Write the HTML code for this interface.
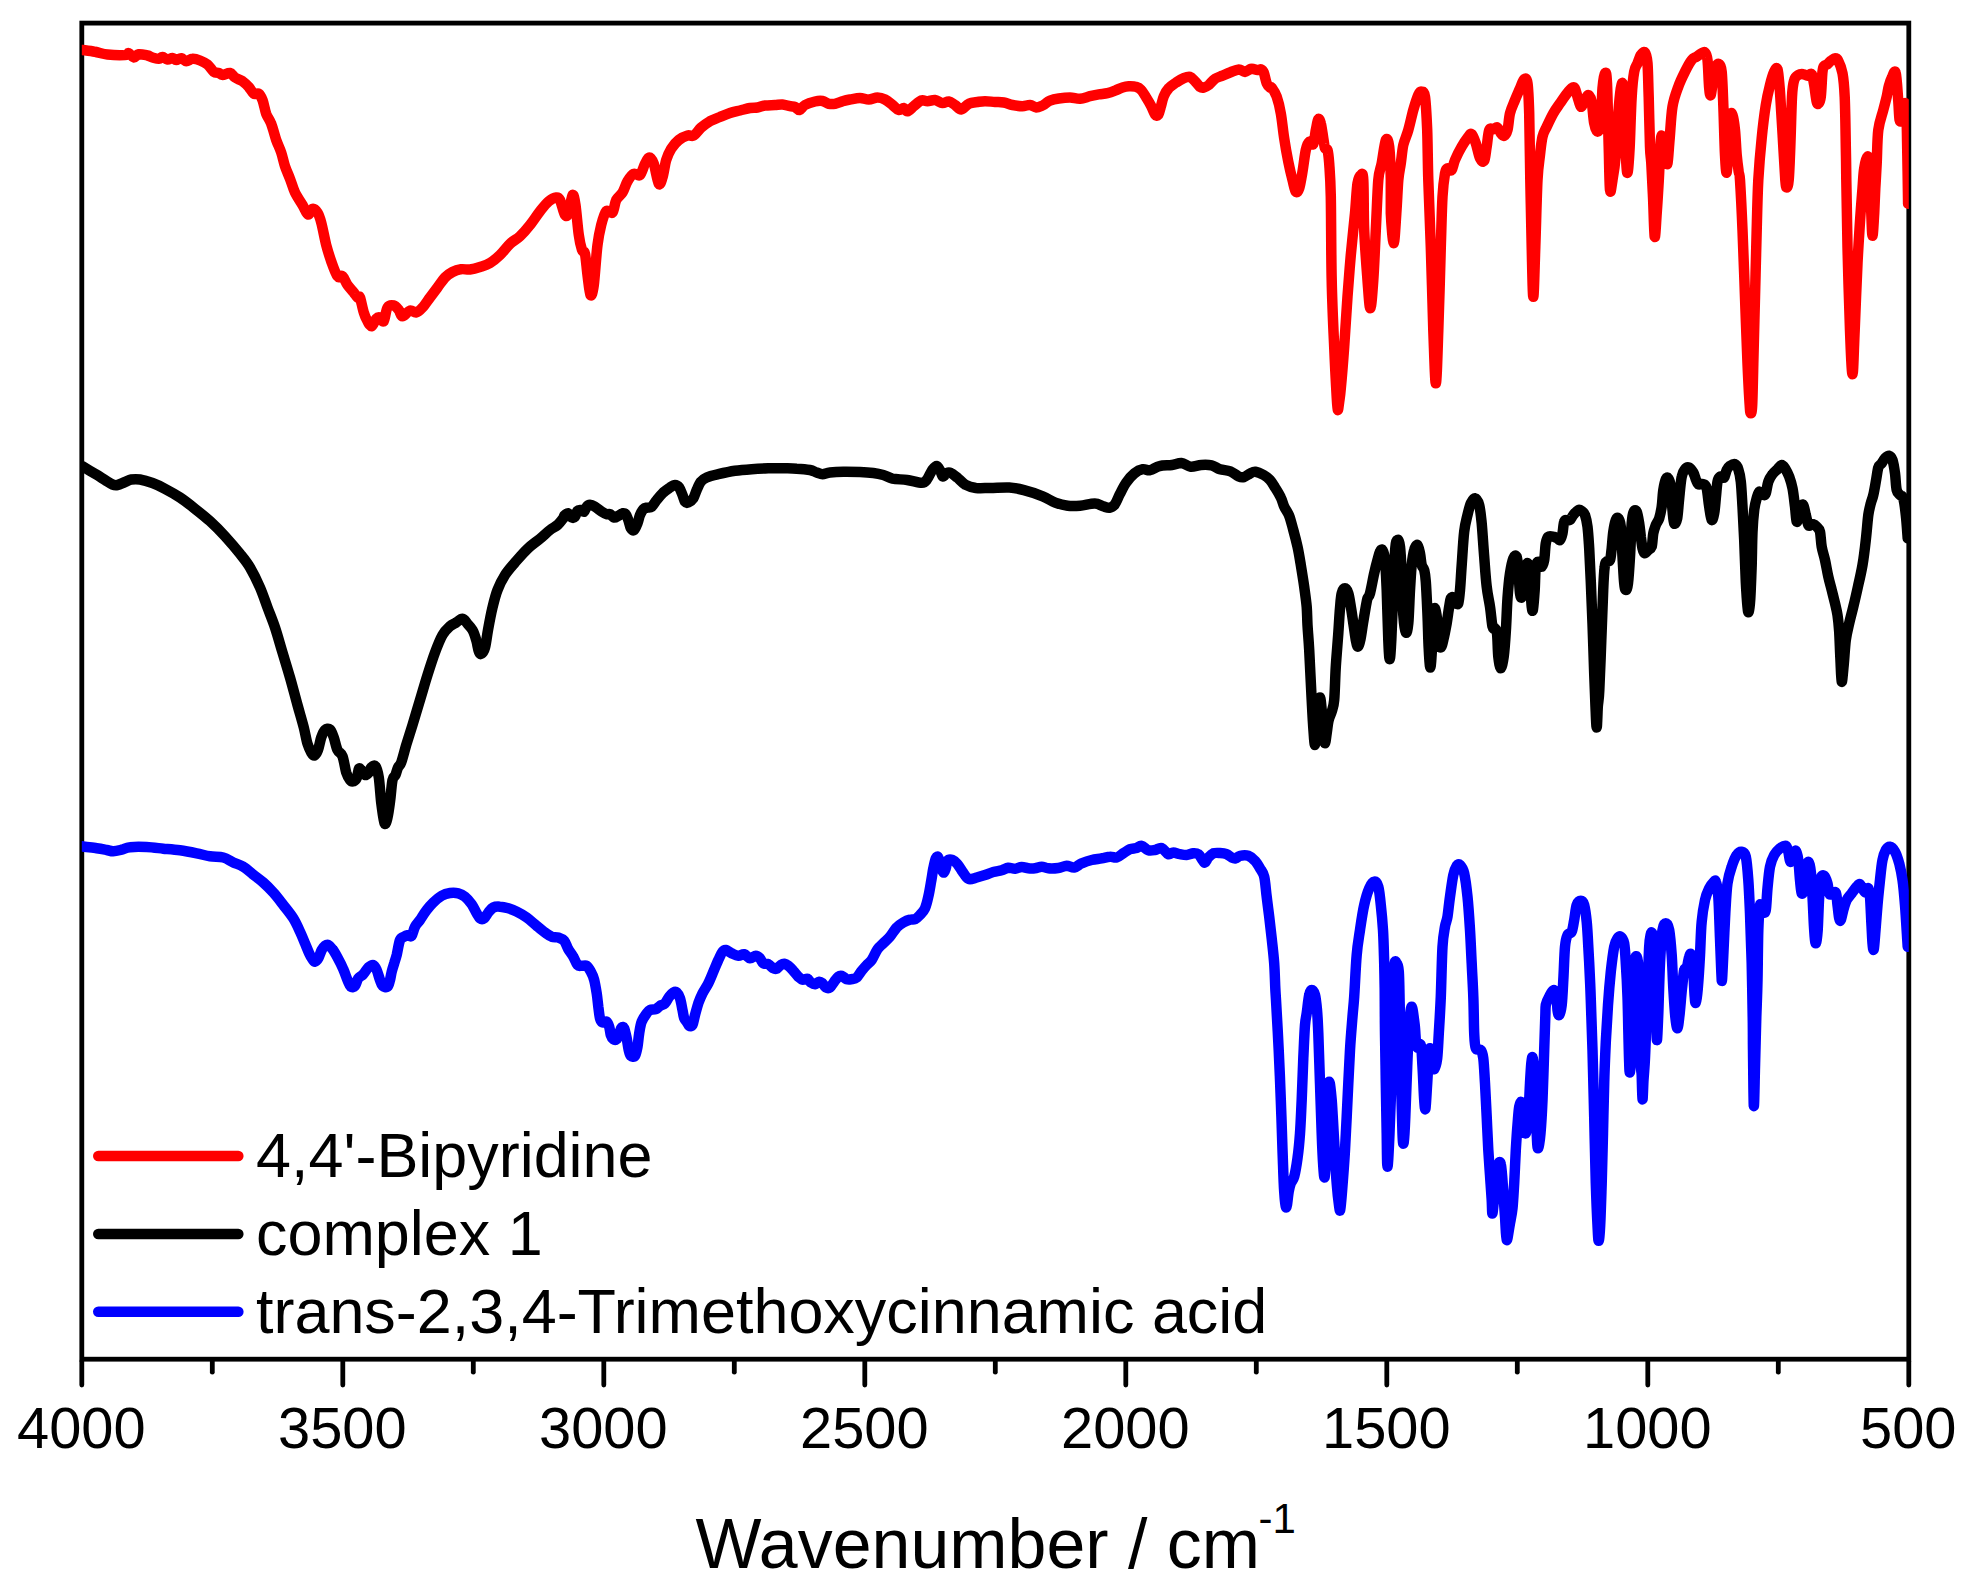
<!DOCTYPE html>
<html><head><meta charset="utf-8"><title>IR spectra</title>
<style>
html,body{margin:0;padding:0;background:#fff;}
body{width:1966px;height:1593px;overflow:hidden;font-family:"Liberation Sans",Arial,sans-serif;}
svg{display:block}
text{font-family:"Liberation Sans",Arial,sans-serif;fill:#000}
</style></head><body>
<svg width="1966" height="1593" viewBox="0 0 1966 1593">
<rect width="1966" height="1593" fill="#fff"/>
<defs><clipPath id="cp"><rect x="81.8" y="23.1" width="1827.0" height="1336.1"/></clipPath></defs>
<rect x="81.8" y="23.1" width="1827.0" height="1336.1" fill="none" stroke="#000" stroke-width="4.8"/>
<g clip-path="url(#cp)" fill="none" stroke-width="10.5" stroke-linejoin="round" stroke-linecap="round">
<path stroke="#ff0000" d="M82.5 50.0C84.6 50.3 90.8 51.0 95.0 51.8C99.2 52.5 102.5 54.0 107.5 54.5C112.5 55.0 121.5 55.2 125.0 55.0C128.5 54.8 127.3 52.8 128.8 53.2C130.2 53.7 132.1 57.3 133.8 57.5C135.4 57.7 136.5 54.6 138.8 54.2C141.0 53.9 145.2 55.0 147.5 55.5C149.8 56.0 150.6 57.0 152.5 57.5C154.4 58.0 157.1 58.8 158.8 58.8C160.4 58.7 161.0 56.9 162.5 57.0C164.0 57.1 165.8 59.3 167.5 59.5C169.2 59.7 171.0 57.9 172.5 58.0C174.0 58.1 174.8 60.0 176.2 60.0C177.7 60.0 179.6 58.0 181.2 58.2C182.9 58.5 184.4 61.2 186.2 61.2C188.1 61.3 190.2 58.9 192.5 58.8C194.8 58.6 197.5 59.5 200.0 60.5C202.5 61.5 205.2 62.6 207.5 64.5C209.8 66.4 211.9 70.3 213.8 71.8C215.6 73.2 217.3 72.5 218.8 73.0C220.2 73.5 220.6 75.0 222.5 75.0C224.4 75.0 227.9 72.6 230.0 73.0C232.1 73.4 232.9 76.1 235.0 77.5C237.1 78.9 240.2 79.7 242.5 81.2C244.8 82.8 246.9 84.9 248.8 87.0C250.6 89.1 252.1 92.6 253.8 93.8C255.4 94.9 257.3 92.7 258.8 93.8C260.2 94.8 261.2 96.7 262.5 100.0C263.8 103.3 264.8 109.8 266.2 113.8C267.7 117.7 269.6 119.4 271.2 123.8C272.9 128.1 274.6 135.2 276.2 140.0C277.9 144.8 279.8 148.1 281.2 152.5C282.7 156.9 283.5 161.9 285.0 166.2C286.5 170.6 288.3 174.4 290.0 178.8C291.7 183.1 292.9 188.1 295.0 192.5C297.1 196.9 300.3 201.3 302.5 205.0C304.7 208.7 306.3 213.9 308.0 214.5C309.7 215.1 310.9 209.1 312.5 208.8C314.1 208.4 316.0 210.2 317.5 212.5C319.0 214.8 319.8 217.1 321.2 222.5C322.7 227.9 324.6 238.5 326.2 245.0C327.9 251.5 329.4 256.0 331.2 261.2C333.1 266.5 335.6 273.8 337.5 276.2C339.4 278.8 340.8 274.8 342.5 276.2C344.2 277.7 345.6 282.3 347.5 285.0C349.4 287.7 352.1 290.4 353.8 292.5C355.4 294.6 356.5 296.7 357.5 297.5C358.5 298.3 359.0 295.0 360.0 297.5C361.0 300.0 362.5 308.5 363.8 312.5C365.0 316.5 366.2 319.0 367.5 321.2C368.8 323.5 370.3 326.7 371.8 326.2C373.2 325.8 374.9 320.2 376.2 318.8C377.6 317.3 378.8 317.1 380.0 317.5C381.2 317.9 382.5 322.9 383.8 321.2C385.0 319.6 385.8 310.1 387.5 307.5C389.2 304.9 391.9 305.1 393.8 305.5C395.6 305.9 397.3 308.2 398.8 310.0C400.2 311.8 400.6 316.2 402.5 316.2C404.4 316.3 407.7 311.1 410.0 310.5C412.3 309.9 414.2 313.0 416.2 312.5C418.3 312.0 420.2 310.0 422.5 307.5C424.8 305.0 427.5 300.8 430.0 297.5C432.5 294.2 435.0 290.8 437.5 287.5C440.0 284.2 442.5 280.1 445.0 277.5C447.5 274.9 449.8 273.4 452.5 272.0C455.2 270.6 458.3 269.7 461.2 269.2C464.2 268.8 466.9 269.9 470.0 269.5C473.1 269.1 476.7 268.1 480.0 267.0C483.3 265.9 486.7 265.0 490.0 263.0C493.3 261.0 496.7 258.2 500.0 255.0C503.3 251.8 506.7 246.9 510.0 243.8C513.3 240.6 516.7 239.4 520.0 236.2C523.3 233.1 526.7 229.2 530.0 225.0C533.3 220.8 536.9 215.2 540.0 211.2C543.1 207.3 546.0 203.5 548.8 201.2C551.5 199.0 554.4 197.7 556.2 197.5C558.1 197.3 558.5 197.1 560.0 200.0C561.5 202.9 563.5 212.9 565.0 215.0C566.5 217.1 567.5 215.8 568.8 212.5C570.0 209.2 571.4 196.2 572.5 195.0C573.6 193.8 574.5 198.3 575.5 205.0C576.5 211.7 577.7 227.5 578.8 235.0C579.8 242.5 581.0 246.9 582.0 250.0C583.0 253.1 584.1 249.6 585.0 253.8C585.9 257.9 586.6 268.1 587.5 275.0C588.4 281.9 589.5 293.3 590.5 295.0C591.5 296.7 592.6 293.3 593.8 285.0C594.9 276.7 596.2 255.0 597.5 245.0C598.8 235.0 599.8 230.6 601.2 225.0C602.7 219.4 604.4 213.3 606.2 211.2C608.1 209.2 610.8 214.4 612.5 212.5C614.2 210.6 614.6 203.3 616.2 200.0C617.9 196.7 620.6 195.6 622.5 192.5C624.4 189.4 625.6 184.4 627.5 181.2C629.4 178.1 631.7 174.8 633.8 173.8C635.8 172.7 638.1 176.7 640.0 175.0C641.9 173.3 643.4 166.7 645.0 163.8C646.6 160.8 648.0 157.5 649.5 157.5C651.0 157.5 652.2 159.4 653.8 163.8C655.3 168.1 657.3 181.5 658.8 183.8C660.2 186.0 661.2 181.5 662.5 177.5C663.8 173.5 664.8 164.8 666.2 160.0C667.7 155.2 669.2 152.1 671.2 148.8C673.3 145.4 676.0 142.2 678.8 140.0C681.5 137.8 685.0 136.2 687.5 135.5C690.0 134.8 691.5 136.8 693.8 135.5C696.0 134.2 698.5 129.9 701.2 127.5C704.0 125.1 706.9 123.0 710.0 121.2C713.1 119.5 716.7 118.4 720.0 117.0C723.3 115.6 726.7 114.1 730.0 113.0C733.3 111.9 736.7 111.3 740.0 110.5C743.3 109.7 747.1 108.5 750.0 108.0C752.9 107.5 755.0 107.9 757.5 107.5C760.0 107.1 762.1 105.9 765.0 105.5C767.9 105.1 772.1 105.2 775.0 105.0C777.9 104.8 780.0 104.3 782.5 104.5C785.0 104.7 787.9 105.8 790.0 106.2C792.1 106.7 793.4 106.4 795.0 107.0C796.6 107.6 797.8 110.3 799.5 110.0C801.2 109.7 802.4 106.4 805.0 105.0C807.6 103.6 812.1 102.2 815.0 101.5C817.9 100.8 820.2 100.6 822.5 101.0C824.8 101.4 826.7 103.3 828.8 103.8C830.8 104.2 832.7 104.2 835.0 103.8C837.3 103.3 840.0 102.0 842.5 101.2C845.0 100.5 847.1 100.0 850.0 99.5C852.9 99.0 856.9 98.0 860.0 98.0C863.1 98.0 865.8 99.6 868.8 99.5C871.7 99.4 874.8 97.5 877.5 97.5C880.2 97.5 882.5 98.2 885.0 99.5C887.5 100.8 890.2 103.2 892.5 105.0C894.8 106.8 896.9 109.5 898.8 110.0C900.6 110.5 902.3 107.8 903.8 108.0C905.2 108.2 905.8 111.5 907.5 111.2C909.2 111.0 911.5 108.0 913.8 106.2C916.0 104.5 919.0 101.3 921.2 100.5C923.5 99.7 925.2 101.3 927.5 101.2C929.8 101.2 932.5 99.7 935.0 100.0C937.5 100.3 940.2 102.8 942.5 103.0C944.8 103.2 946.7 101.2 948.8 101.5C950.8 101.8 952.9 103.7 955.0 105.0C957.1 106.3 959.0 109.7 961.2 109.5C963.5 109.3 966.0 105.0 968.8 103.8C971.5 102.5 974.8 102.4 977.5 102.0C980.2 101.6 982.1 101.2 985.0 101.2C987.9 101.2 991.9 101.8 995.0 102.0C998.1 102.2 1000.8 102.0 1003.8 102.5C1006.7 103.0 1009.4 104.4 1012.5 105.0C1015.6 105.6 1019.6 106.2 1022.5 106.2C1025.4 106.2 1027.7 104.8 1030.0 105.0C1032.3 105.2 1034.2 107.4 1036.2 107.5C1038.3 107.6 1041.0 106.1 1042.5 105.5C1044.0 104.9 1043.8 104.8 1045.0 104.0C1046.2 103.2 1047.7 101.5 1050.0 100.6C1052.3 99.7 1055.4 99.0 1058.8 98.5C1062.1 98.0 1066.5 97.5 1070.0 97.5C1073.5 97.5 1076.7 99.0 1080.0 98.8C1083.3 98.5 1086.9 97.0 1090.0 96.2C1093.1 95.5 1095.8 94.9 1098.8 94.4C1101.7 93.9 1104.8 93.8 1107.5 93.1C1110.2 92.5 1112.5 91.6 1115.0 90.6C1117.5 89.7 1120.2 88.2 1122.5 87.5C1124.8 86.8 1126.5 86.4 1128.8 86.2C1131.0 86.1 1134.2 86.2 1136.2 86.9C1138.3 87.5 1139.6 88.2 1141.2 90.0C1142.9 91.8 1144.6 94.8 1146.2 97.5C1147.9 100.2 1149.8 103.4 1151.2 106.2C1152.7 109.1 1153.9 112.9 1155.0 114.4C1156.1 115.8 1157.2 116.1 1158.1 115.0C1159.1 113.9 1159.7 110.6 1160.6 107.5C1161.6 104.4 1162.4 99.5 1163.8 96.2C1165.1 93.0 1166.7 90.4 1168.8 88.1C1170.8 85.8 1173.8 84.2 1176.2 82.5C1178.8 80.8 1181.5 79.1 1183.8 78.1C1186.0 77.2 1188.1 76.4 1190.0 76.9C1191.9 77.4 1193.3 79.6 1195.0 81.2C1196.7 82.9 1198.5 85.8 1200.0 86.9C1201.5 87.9 1202.3 87.8 1203.8 87.5C1205.2 87.2 1206.9 86.5 1208.8 85.0C1210.6 83.5 1212.7 80.3 1215.0 78.8C1217.3 77.2 1220.0 76.7 1222.5 75.6C1225.0 74.6 1227.3 73.5 1230.0 72.5C1232.7 71.5 1236.2 69.5 1238.8 69.4C1241.2 69.3 1242.9 72.0 1245.0 71.9C1247.1 71.8 1249.2 69.1 1251.2 68.8C1253.3 68.4 1255.8 69.9 1257.5 70.0C1259.2 70.1 1260.2 69.0 1261.2 69.4C1262.3 69.8 1262.8 70.1 1263.8 72.5C1264.7 74.9 1265.8 81.2 1266.9 83.8C1267.9 86.2 1269.2 86.9 1270.0 87.5C1270.8 88.1 1270.6 86.0 1271.7 87.5C1272.8 89.0 1275.1 92.4 1276.7 96.7C1278.2 101.0 1279.6 106.4 1280.8 113.3C1282.1 120.3 1282.9 130.3 1284.2 138.3C1285.4 146.4 1286.9 154.7 1288.3 161.7C1289.7 168.6 1291.2 175.0 1292.5 180.0C1293.8 185.0 1294.7 190.3 1295.8 191.7C1296.9 193.1 1298.1 191.7 1299.2 188.3C1300.3 185.0 1301.4 178.1 1302.5 171.7C1303.6 165.3 1304.7 155.0 1305.8 150.0C1306.9 145.0 1307.9 142.6 1309.2 141.7C1310.4 140.7 1312.2 146.1 1313.3 144.2C1314.4 142.2 1315.0 134.2 1315.8 130.0C1316.7 125.8 1317.5 120.3 1318.3 119.2C1319.2 118.1 1320.0 120.1 1320.8 123.3C1321.7 126.5 1322.6 134.2 1323.3 138.3C1324.0 142.5 1324.3 146.4 1325.0 148.3C1325.7 150.3 1326.8 147.5 1327.5 150.0C1328.2 152.5 1328.6 155.6 1329.2 163.3C1329.7 171.1 1330.4 177.2 1330.8 196.7C1331.2 216.1 1331.1 255.0 1331.7 280.0C1332.2 305.0 1333.3 327.2 1334.2 346.7C1335.0 366.1 1336.1 386.1 1336.7 396.7C1337.3 407.2 1337.4 409.2 1337.8 410.0C1338.2 410.8 1338.7 405.3 1339.2 401.7C1339.7 398.1 1340.0 397.5 1340.8 388.3C1341.7 379.2 1343.1 361.9 1344.2 346.7C1345.3 331.4 1346.4 311.9 1347.5 296.7C1348.6 281.4 1349.6 268.9 1350.8 255.0C1352.1 241.1 1353.9 225.3 1355.0 213.3C1356.1 201.4 1356.5 189.7 1357.5 183.3C1358.5 176.9 1359.9 175.6 1360.8 175.0C1361.8 174.4 1362.8 170.8 1363.3 180.0C1363.9 189.2 1363.5 213.3 1364.2 230.0C1364.9 246.7 1366.5 266.9 1367.5 280.0C1368.5 293.1 1369.4 308.3 1370.3 308.3C1371.3 308.3 1372.4 293.1 1373.3 280.0C1374.2 266.9 1375.0 246.7 1375.8 230.0C1376.7 213.3 1377.4 191.1 1378.3 180.0C1379.3 168.9 1380.4 170.0 1381.7 163.3C1382.9 156.7 1384.6 142.8 1385.8 140.0C1387.1 137.2 1388.3 140.0 1389.2 146.7C1390.0 153.3 1390.6 168.9 1390.8 180.0C1390.8 191.1 1390.8 202.8 1390.8 213.3C1391.3 223.9 1392.8 243.3 1393.7 243.3C1394.6 243.3 1395.6 223.9 1396.3 213.3C1397.1 202.8 1397.6 188.3 1398.3 180.0C1399.1 171.7 1400.0 169.2 1400.8 163.3C1401.7 157.5 1402.1 150.6 1403.3 145.0C1404.6 139.4 1406.7 135.8 1408.3 130.0C1410.0 124.2 1411.7 115.8 1413.3 110.0C1415.0 104.2 1416.9 98.1 1418.3 95.0C1419.7 91.9 1420.6 91.4 1421.7 91.7C1422.8 91.9 1424.1 90.3 1425.0 96.7C1425.9 103.1 1426.6 116.1 1427.2 130.0C1427.7 143.9 1427.7 160.6 1428.3 180.0C1428.9 199.4 1430.0 221.7 1430.8 246.7C1431.7 271.7 1432.5 307.2 1433.3 330.0C1434.2 352.8 1435.0 383.3 1435.8 383.3C1436.7 383.3 1437.5 352.8 1438.3 330.0C1439.2 307.2 1440.1 268.9 1440.8 246.7C1441.5 224.4 1441.8 208.9 1442.5 196.7C1443.2 184.4 1444.2 178.1 1445.0 173.3C1445.8 168.6 1446.4 168.9 1447.5 168.3C1448.6 167.8 1450.4 171.4 1451.7 170.0C1452.9 168.6 1453.3 163.9 1455.0 160.0C1456.7 156.1 1459.4 150.6 1461.7 146.7C1463.9 142.8 1466.7 138.8 1468.3 136.7C1470.0 134.6 1470.4 133.1 1471.7 134.2C1472.9 135.3 1474.4 139.3 1475.8 143.3C1477.2 147.4 1478.6 155.4 1480.0 158.3C1481.4 161.2 1483.1 162.8 1484.2 160.8C1485.3 158.9 1485.8 151.8 1486.7 146.7C1487.5 141.5 1488.1 132.9 1489.2 130.0C1490.3 127.1 1491.9 129.6 1493.3 129.2C1494.7 128.8 1496.2 126.8 1497.5 127.5C1498.8 128.2 1499.7 131.9 1500.8 133.3C1501.9 134.7 1503.1 136.4 1504.2 135.8C1505.3 135.3 1506.5 133.8 1507.5 130.0C1508.5 126.2 1508.8 118.3 1510.0 113.3C1511.2 108.3 1513.3 104.2 1515.0 100.0C1516.7 95.8 1518.5 91.8 1520.0 88.3C1521.5 84.9 1522.9 80.0 1524.2 79.2C1525.4 78.3 1526.7 77.6 1527.5 83.3C1528.3 89.0 1528.7 97.2 1529.2 113.3C1529.6 129.4 1529.9 157.8 1530.3 180.0C1530.8 202.2 1531.2 227.2 1531.7 246.7C1532.2 266.1 1532.7 296.7 1533.3 296.7C1533.9 296.7 1534.6 266.1 1535.3 246.7C1536.0 227.2 1536.7 195.3 1537.5 180.0C1538.3 164.7 1539.2 162.2 1540.0 155.0C1540.8 147.8 1541.4 141.4 1542.5 136.7C1543.6 131.9 1544.9 130.6 1546.7 126.7C1548.5 122.8 1551.1 117.2 1553.3 113.3C1555.6 109.4 1557.5 106.9 1560.0 103.3C1562.5 99.7 1566.0 94.3 1568.3 91.7C1570.7 89.0 1572.6 86.7 1574.2 87.5C1575.7 88.3 1576.4 93.5 1577.5 96.7C1578.6 99.9 1579.7 105.8 1580.8 106.7C1581.9 107.5 1582.9 103.6 1584.2 101.7C1585.4 99.7 1587.1 95.0 1588.3 95.0C1589.6 95.0 1590.7 96.9 1591.7 101.7C1592.6 106.4 1593.2 118.3 1594.2 123.3C1595.1 128.3 1596.4 131.7 1597.5 131.7C1598.6 131.7 1600.0 130.6 1600.8 123.3C1601.7 116.1 1601.8 96.7 1602.5 88.3C1603.2 80.0 1604.2 74.2 1605.0 73.3C1605.8 72.5 1606.4 71.1 1607.0 83.3C1607.6 95.6 1608.2 128.9 1608.7 146.7C1609.2 164.4 1609.4 184.4 1610.0 190.0C1610.6 195.6 1611.5 185.8 1612.5 180.0C1613.5 174.2 1614.9 166.1 1615.8 155.0C1616.8 143.9 1617.5 124.4 1618.3 113.3C1619.2 102.2 1620.1 93.1 1620.8 88.3C1621.6 83.6 1622.4 80.8 1623.0 85.0C1623.6 89.2 1624.1 100.3 1624.7 113.3C1625.2 126.4 1625.8 153.6 1626.3 163.3C1626.9 173.1 1627.3 174.4 1627.8 171.7C1628.4 168.9 1629.0 159.2 1629.7 146.7C1630.3 134.2 1630.9 109.2 1631.7 96.7C1632.4 84.2 1633.2 77.2 1634.2 71.7C1635.1 66.1 1636.4 66.1 1637.5 63.3C1638.6 60.6 1639.6 56.8 1640.8 55.0C1642.1 53.2 1643.9 51.1 1645.0 52.5C1646.1 53.9 1646.9 56.0 1647.5 63.3C1648.1 70.7 1648.2 82.8 1648.7 96.7C1649.1 110.6 1649.6 135.6 1650.0 146.7C1650.4 157.8 1650.8 155.0 1651.3 163.3C1651.8 171.7 1652.4 184.4 1653.0 196.7C1653.6 208.9 1654.1 233.9 1654.7 236.7C1655.3 239.4 1656.0 222.8 1656.7 213.3C1657.4 203.9 1658.1 192.2 1658.8 180.0C1659.5 167.8 1660.1 146.9 1660.8 140.0C1661.5 133.1 1662.2 135.6 1663.0 138.3C1663.8 141.1 1664.6 152.5 1665.3 156.7C1666.1 160.8 1666.8 166.4 1667.5 163.3C1668.2 160.3 1668.8 147.8 1669.7 138.3C1670.5 128.9 1671.1 115.3 1672.5 106.7C1673.9 98.1 1676.2 92.5 1678.3 86.7C1680.4 80.8 1682.8 76.1 1685.0 71.7C1687.2 67.2 1689.7 62.5 1691.7 60.0C1693.6 57.5 1695.0 57.8 1696.7 56.7C1698.3 55.6 1700.3 54.0 1701.7 53.3C1703.1 52.6 1704.0 51.4 1705.0 52.5C1706.0 53.6 1706.8 54.0 1707.5 60.0C1708.2 66.0 1708.6 82.5 1709.2 88.3C1709.7 94.2 1710.2 96.4 1710.8 95.0C1711.5 93.6 1712.2 84.7 1713.0 80.0C1713.8 75.3 1714.8 69.3 1715.8 66.7C1716.9 64.0 1718.2 63.3 1719.2 64.2C1720.1 65.0 1721.0 64.9 1721.7 71.7C1722.4 78.5 1722.8 91.1 1723.3 105.0C1723.9 118.9 1724.4 143.8 1725.0 155.0C1725.6 166.2 1726.1 173.9 1726.7 172.5C1727.3 171.1 1728.1 156.0 1728.7 146.7C1729.3 137.4 1729.7 121.9 1730.3 116.7C1731.0 111.4 1731.7 112.8 1732.5 115.0C1733.3 117.2 1734.3 123.3 1735.0 130.0C1735.7 136.7 1736.1 148.1 1736.7 155.0C1737.3 161.9 1738.1 167.5 1738.7 171.7C1739.2 175.8 1739.4 170.3 1740.0 180.0C1740.6 189.7 1741.7 210.6 1742.5 230.0C1743.3 249.4 1744.2 274.4 1745.0 296.7C1745.8 318.9 1746.7 345.3 1747.5 363.3C1748.3 381.4 1749.1 396.7 1749.7 405.0C1750.2 413.3 1750.4 413.3 1750.8 413.3C1751.2 413.3 1751.8 413.3 1752.2 405.0C1752.6 396.7 1752.9 381.4 1753.3 363.3C1753.8 345.3 1754.4 318.9 1755.0 296.7C1755.6 274.4 1756.1 249.4 1756.7 230.0C1757.2 210.6 1757.5 195.3 1758.3 180.0C1759.2 164.7 1760.4 150.8 1761.7 138.3C1762.9 125.8 1764.4 113.9 1765.8 105.0C1767.2 96.1 1768.6 90.6 1770.0 85.0C1771.4 79.4 1772.9 74.3 1774.2 71.7C1775.4 69.0 1776.6 66.4 1777.5 69.2C1778.4 71.9 1779.0 81.0 1779.7 88.3C1780.3 95.7 1780.7 103.6 1781.3 113.3C1781.9 123.1 1782.7 135.6 1783.3 146.7C1784.0 157.8 1784.8 173.2 1785.3 180.0C1785.9 186.8 1786.1 187.5 1786.7 187.5C1787.2 187.5 1788.1 186.8 1788.7 180.0C1789.3 173.2 1789.8 160.6 1790.3 146.7C1790.9 132.8 1791.4 107.8 1792.0 96.7C1792.6 85.6 1793.1 83.6 1794.2 80.0C1795.2 76.4 1796.8 76.0 1798.3 75.0C1799.9 74.0 1801.8 74.0 1803.3 74.2C1804.9 74.3 1806.1 75.8 1807.5 75.8C1808.9 75.8 1810.6 72.6 1811.7 74.2C1812.8 75.7 1813.3 80.4 1814.2 85.0C1815.0 89.6 1815.9 98.6 1816.7 101.7C1817.4 104.7 1818.0 104.2 1818.7 103.3C1819.4 102.5 1820.2 101.9 1820.8 96.7C1821.5 91.4 1821.9 76.8 1822.5 71.7C1823.1 66.5 1823.3 67.1 1824.2 65.8C1825.0 64.6 1826.4 65.0 1827.5 64.2C1828.6 63.3 1829.6 61.8 1830.8 60.8C1832.1 59.9 1833.8 58.3 1835.0 58.3C1836.2 58.3 1837.1 58.3 1838.3 60.8C1839.6 63.3 1841.4 67.4 1842.5 73.3C1843.6 79.3 1844.1 84.4 1844.7 96.7C1845.2 108.9 1845.6 132.8 1845.8 146.7C1846.1 160.6 1846.1 163.3 1846.3 180.0C1846.6 196.7 1846.9 221.7 1847.5 246.7C1848.1 271.7 1849.2 308.8 1850.0 330.0C1850.8 351.2 1851.7 374.2 1852.5 374.2C1853.3 374.2 1853.8 348.5 1854.7 330.0C1855.5 311.5 1856.6 281.4 1857.5 263.3C1858.4 245.3 1859.2 234.2 1860.0 221.7C1860.8 209.2 1861.8 197.2 1862.5 188.3C1863.2 179.4 1863.3 173.6 1864.2 168.3C1865.0 163.1 1866.6 157.5 1867.5 156.7C1868.4 155.8 1868.9 156.7 1869.5 163.3C1870.1 170.0 1870.5 188.3 1870.8 196.7C1871.1 205.0 1871.1 206.8 1871.3 213.3C1871.6 219.9 1872.0 235.8 1872.5 235.8C1873.0 235.8 1873.7 221.2 1874.2 213.3C1874.6 205.4 1874.9 196.7 1875.3 188.3C1875.8 180.0 1876.2 173.1 1876.7 163.3C1877.2 153.6 1877.2 138.9 1878.3 130.0C1879.4 121.1 1881.9 115.6 1883.3 110.0C1884.7 104.4 1885.8 100.6 1886.7 96.7C1887.6 92.7 1887.9 89.4 1888.8 86.2C1889.6 83.1 1890.7 79.8 1891.9 77.5C1893.0 75.2 1894.6 69.0 1895.6 72.5C1896.7 76.0 1897.5 90.8 1898.1 98.8C1898.8 106.7 1899.0 116.9 1899.6 120.0C1900.2 123.1 1901.1 120.0 1901.9 117.5C1902.7 115.0 1903.6 106.7 1904.4 105.0C1905.1 103.3 1905.8 101.2 1906.2 107.5C1906.7 113.8 1906.8 126.5 1907.1 142.5C1907.4 158.5 1908.0 193.5 1908.1 203.8"/>
<path stroke="#000000" d="M82.5 466.2C84.6 467.5 91.2 471.5 95.0 473.8C98.8 476.0 102.1 478.2 105.0 480.0C107.9 481.8 110.4 483.7 112.5 484.5C114.6 485.3 115.4 485.4 117.5 485.0C119.6 484.6 122.7 482.9 125.0 482.0C127.3 481.1 128.8 479.9 131.2 479.5C133.8 479.1 136.5 478.9 140.0 479.5C143.5 480.1 148.3 481.5 152.5 483.0C156.7 484.5 160.4 486.3 165.0 488.8C169.6 491.2 175.0 494.2 180.0 497.5C185.0 500.8 190.0 504.8 195.0 508.8C200.0 512.7 205.0 516.7 210.0 521.2C215.0 525.8 220.0 530.8 225.0 536.2C230.0 541.7 235.8 548.5 240.0 553.8C244.2 559.0 246.7 561.9 250.0 567.5C253.3 573.1 257.1 580.8 260.0 587.5C262.9 594.2 265.0 600.8 267.5 607.5C270.0 614.2 272.5 620.0 275.0 627.5C277.5 635.0 280.0 644.2 282.5 652.5C285.0 660.8 287.5 668.8 290.0 677.5C292.5 686.2 295.2 696.7 297.5 705.0C299.8 713.3 302.1 721.0 303.8 727.5C305.4 734.0 306.2 739.6 307.5 743.8C308.8 747.9 310.1 750.5 311.2 752.5C312.4 754.5 313.4 755.9 314.5 755.5C315.6 755.1 316.9 753.0 318.0 750.0C319.1 747.0 320.1 740.8 321.2 737.5C322.4 734.2 323.5 731.3 325.0 730.0C326.5 728.7 328.5 728.2 330.0 729.5C331.5 730.8 332.5 734.1 333.8 737.5C335.0 740.9 336.0 746.9 337.5 750.0C339.0 753.1 341.0 752.5 342.5 756.2C344.0 760.0 345.0 768.5 346.2 772.5C347.5 776.5 348.8 778.5 350.0 780.0C351.2 781.5 352.6 781.7 353.8 781.2C354.9 780.8 356.2 779.6 357.0 777.5C357.8 775.4 358.0 770.0 358.8 768.8C359.5 767.5 360.2 769.0 361.2 770.0C362.3 771.0 363.8 774.6 365.0 775.0C366.2 775.4 367.7 773.8 368.8 772.5C369.8 771.2 370.1 768.5 371.2 767.5C372.4 766.5 374.2 764.6 375.5 766.2C376.8 767.9 377.8 771.5 378.8 777.5C379.7 783.5 380.4 795.4 381.2 802.5C382.1 809.6 383.0 816.5 383.8 820.0C384.5 823.5 384.8 824.6 385.5 823.8C386.2 822.9 387.2 819.4 388.0 815.0C388.8 810.6 389.8 803.3 390.5 797.5C391.2 791.7 391.7 783.8 392.5 780.0C393.3 776.2 394.6 777.1 395.5 775.0C396.4 772.9 397.0 769.6 398.0 767.5C399.0 765.4 399.9 766.2 401.2 762.5C402.6 758.8 404.4 751.2 406.2 745.0C408.1 738.8 410.2 732.5 412.5 725.0C414.8 717.5 417.5 708.3 420.0 700.0C422.5 691.7 425.0 682.9 427.5 675.0C430.0 667.1 432.5 659.2 435.0 652.5C437.5 645.8 440.0 639.4 442.5 635.0C445.0 630.6 447.7 628.3 450.0 626.2C452.3 624.2 454.2 623.8 456.2 622.5C458.3 621.2 460.6 618.5 462.5 618.8C464.4 619.0 465.8 621.9 467.5 623.8C469.2 625.6 471.0 627.3 472.5 630.0C474.0 632.7 475.2 636.5 476.2 640.0C477.3 643.5 477.9 649.0 478.8 651.2C479.6 653.5 480.2 654.4 481.2 653.8C482.3 653.1 483.9 651.5 485.0 647.5C486.1 643.5 486.8 636.7 488.0 630.0C489.2 623.3 490.9 614.2 492.5 607.5C494.1 600.8 495.4 595.4 497.5 590.0C499.6 584.6 502.1 579.6 505.0 575.0C507.9 570.4 511.2 566.9 515.0 562.5C518.8 558.1 523.3 552.7 527.5 548.8C531.7 544.8 536.2 541.9 540.0 538.8C543.8 535.6 547.1 532.3 550.0 530.0C552.9 527.7 555.2 527.1 557.5 525.0C559.8 522.9 562.6 519.0 563.8 517.5C564.2 516.0 563.8 516.5 564.2 515.8C564.9 515.1 567.1 513.1 568.3 513.3C569.6 513.6 570.6 516.9 571.7 517.5C572.8 518.1 574.0 517.8 575.0 516.7C576.0 515.6 576.5 511.9 577.5 510.8C578.5 509.7 579.7 509.9 580.8 510.0C581.9 510.1 583.2 512.2 584.2 511.7C585.1 511.1 585.7 507.8 586.7 506.7C587.6 505.5 588.6 504.7 590.0 504.7C591.4 504.7 593.1 505.5 595.0 506.7C596.9 507.8 599.7 510.4 601.7 511.7C603.6 512.9 605.3 513.8 606.7 514.2C608.1 514.6 608.8 513.6 610.0 514.2C611.2 514.7 612.8 517.2 614.2 517.5C615.6 517.8 616.9 516.5 618.3 515.8C619.7 515.1 621.2 513.6 622.5 513.3C623.8 513.1 624.9 513.1 625.8 514.2C626.8 515.3 627.5 517.6 628.3 520.0C629.2 522.4 629.9 526.7 630.8 528.3C631.8 530.0 633.1 530.8 634.2 530.0C635.3 529.2 636.5 525.8 637.5 523.3C638.5 520.8 639.0 517.4 640.0 515.0C641.0 512.6 642.1 510.4 643.3 509.2C644.6 507.9 646.1 507.9 647.5 507.5C648.9 507.1 650.1 507.9 651.7 506.7C653.2 505.4 654.7 502.4 656.7 500.0C658.6 497.6 661.1 494.6 663.3 492.5C665.6 490.4 668.1 488.8 670.0 487.5C671.9 486.2 673.5 485.0 675.0 485.0C676.5 485.0 677.9 485.8 679.2 487.5C680.4 489.2 681.5 492.6 682.5 495.0C683.5 497.4 684.0 500.4 685.0 501.7C686.0 502.9 686.9 503.1 688.3 502.5C689.7 501.9 691.9 500.4 693.3 498.3C694.7 496.2 695.4 492.8 696.7 490.0C697.9 487.2 699.2 483.8 700.8 481.7C702.5 479.6 703.8 478.8 706.7 477.5C709.6 476.2 713.6 475.3 718.3 474.2C723.1 473.1 729.4 471.7 735.0 470.8C740.6 470.0 746.1 469.6 751.7 469.2C757.2 468.8 762.8 468.5 768.3 468.3C773.9 468.2 780.3 468.3 785.0 468.3C789.7 468.4 792.5 468.4 796.7 468.7C800.8 468.9 806.7 469.4 810.0 470.0C813.3 470.6 814.6 471.8 816.7 472.5C818.8 473.2 820.3 474.2 822.5 474.2C824.7 474.2 826.5 472.9 830.0 472.5C833.5 472.1 838.3 471.8 843.3 471.7C848.3 471.6 855.0 471.8 860.0 472.0C865.0 472.2 869.4 472.5 873.3 473.0C877.2 473.5 880.1 474.1 883.3 475.0C886.5 475.9 888.5 477.7 892.5 478.6C896.5 479.4 902.2 479.3 907.1 480.0C912.0 480.7 918.4 482.8 921.7 482.8C925.0 482.7 925.2 481.7 926.9 479.6C928.7 477.5 930.5 472.5 932.1 470.2C933.8 468.0 935.3 465.9 936.7 466.1C938.1 466.2 939.4 469.5 940.5 471.3C941.5 473.0 941.9 476.2 943.0 476.5C944.0 476.8 945.4 473.5 946.7 473.0C948.1 472.4 949.2 472.2 950.9 473.0C952.6 473.7 954.7 475.6 957.2 477.5C959.6 479.5 962.4 483.1 965.5 484.8C968.6 486.6 971.8 487.4 975.9 488.0C980.1 488.5 985.0 488.0 990.5 488.0C996.1 487.9 1003.7 487.2 1009.3 487.5C1014.9 487.9 1018.3 488.6 1023.9 490.1C1029.5 491.5 1037.5 494.2 1042.7 496.3C1047.9 498.4 1051.0 501.0 1055.2 502.6C1059.4 504.1 1063.5 505.2 1067.7 505.7C1071.9 506.2 1075.7 506.0 1080.2 505.7C1084.7 505.3 1091.0 503.5 1094.8 503.6C1098.6 503.7 1100.7 505.6 1103.1 506.3C1105.6 507.0 1107.5 508.1 1109.4 507.8C1111.3 507.5 1112.9 506.9 1114.6 504.7C1116.4 502.4 1117.9 497.9 1119.8 494.2C1121.7 490.6 1123.7 486.2 1126.1 482.8C1128.5 479.3 1131.7 475.6 1134.4 473.4C1137.2 471.1 1140.2 469.7 1142.8 469.2C1145.4 468.7 1147.3 470.8 1150.1 470.2C1152.9 469.7 1155.8 466.9 1159.5 466.1C1163.1 465.2 1168.3 465.5 1172.0 465.0C1175.6 464.5 1178.2 462.7 1181.4 462.9C1184.5 463.2 1187.4 466.3 1190.7 466.7C1194.0 467.0 1197.7 465.2 1201.2 465.0C1204.6 464.8 1208.5 464.7 1211.6 465.4C1214.7 466.1 1216.8 468.2 1219.9 469.2C1223.1 470.2 1227.2 470.1 1230.4 471.3C1233.5 472.5 1236.4 475.5 1238.7 476.5C1241.0 477.5 1242.0 477.6 1243.9 477.1C1245.8 476.6 1248.3 474.3 1250.2 473.4C1252.1 472.5 1253.1 471.4 1255.4 471.7C1257.7 472.0 1261.3 473.7 1263.7 475.0C1266.2 476.4 1268.1 477.9 1270.0 480.0C1271.9 482.1 1273.2 484.6 1275.0 487.5C1276.8 490.4 1279.3 494.3 1280.8 497.5C1282.4 500.7 1282.8 503.6 1284.2 506.7C1285.6 509.7 1287.6 511.9 1289.2 515.8C1290.7 519.7 1291.9 524.9 1293.3 530.0C1294.7 535.1 1296.2 540.8 1297.5 546.7C1298.8 552.5 1299.7 558.3 1300.8 565.0C1301.9 571.7 1303.2 579.7 1304.2 586.7C1305.1 593.6 1306.1 600.3 1306.7 606.7C1307.2 613.1 1307.1 617.8 1307.5 625.0C1307.9 632.2 1308.5 637.5 1309.2 650.0C1309.9 662.5 1310.9 686.1 1311.7 700.0C1312.4 713.9 1313.1 725.8 1313.7 733.3C1314.2 740.8 1314.6 745.0 1315.0 745.0C1315.4 745.0 1315.8 738.6 1316.3 733.3C1316.8 728.1 1317.4 719.3 1318.0 713.3C1318.6 707.4 1319.3 697.5 1320.0 697.5C1320.7 697.5 1321.4 707.4 1322.0 713.3C1322.6 719.3 1323.2 728.3 1323.7 733.3C1324.2 738.3 1324.5 743.3 1325.0 743.3C1325.5 743.3 1326.1 737.2 1326.7 733.3C1327.3 729.4 1327.8 723.6 1328.7 720.0C1329.5 716.4 1330.8 715.0 1331.7 711.7C1332.6 708.3 1333.5 707.5 1334.2 700.0C1334.9 692.5 1335.1 677.8 1335.8 666.7C1336.5 655.6 1337.6 643.1 1338.3 633.3C1339.0 623.6 1339.4 615.0 1340.0 608.3C1340.6 601.7 1340.8 596.7 1341.7 593.3C1342.5 590.0 1343.9 588.3 1345.0 588.3C1346.1 588.3 1347.4 590.3 1348.3 593.3C1349.3 596.4 1350.0 601.7 1350.8 606.7C1351.7 611.7 1352.5 617.8 1353.3 623.3C1354.2 628.9 1355.1 636.1 1355.8 640.0C1356.6 643.9 1357.1 646.7 1357.8 646.7C1358.6 646.7 1359.5 643.9 1360.3 640.0C1361.2 636.1 1362.1 628.9 1363.0 623.3C1363.9 617.8 1365.1 610.8 1365.8 606.7C1366.6 602.5 1366.8 600.6 1367.5 598.3C1368.2 596.1 1368.9 597.5 1370.0 593.3C1371.1 589.2 1372.9 578.9 1374.2 573.3C1375.4 567.8 1376.5 563.6 1377.5 560.0C1378.5 556.4 1379.2 553.3 1380.0 551.7C1380.8 550.0 1381.7 548.6 1382.5 550.0C1383.3 551.4 1384.3 553.3 1385.0 560.0C1385.7 566.7 1386.1 576.7 1386.7 590.0C1387.2 603.3 1387.8 628.5 1388.3 640.0C1388.8 651.5 1389.2 659.2 1389.7 659.2C1390.2 659.2 1390.7 651.5 1391.3 640.0C1391.9 628.5 1392.7 605.3 1393.3 590.0C1394.0 574.7 1394.6 556.7 1395.3 548.3C1396.0 540.0 1396.7 540.3 1397.5 540.0C1398.3 539.7 1399.3 541.1 1400.0 546.7C1400.7 552.2 1401.1 561.9 1401.7 573.3C1402.2 584.7 1402.6 605.1 1403.3 615.0C1404.0 624.9 1405.0 631.1 1405.8 632.5C1406.7 633.9 1407.6 630.4 1408.3 623.3C1409.0 616.2 1409.4 599.7 1410.0 590.0C1410.6 580.3 1411.0 571.7 1411.7 565.0C1412.4 558.3 1413.2 553.3 1414.2 550.0C1415.1 546.7 1416.5 544.4 1417.5 545.0C1418.5 545.6 1419.3 550.0 1420.0 553.3C1420.7 556.7 1421.0 562.2 1421.7 565.0C1422.4 567.8 1423.5 567.2 1424.2 570.0C1424.9 572.8 1425.3 574.2 1425.8 581.7C1426.4 589.2 1427.0 603.9 1427.5 615.0C1428.0 626.1 1428.2 639.6 1428.7 648.3C1429.1 657.1 1429.8 667.5 1430.3 667.5C1430.9 667.5 1431.5 657.1 1432.0 648.3C1432.5 639.6 1432.8 621.7 1433.3 615.0C1433.8 608.3 1434.4 607.5 1435.0 608.3C1435.6 609.2 1436.6 614.7 1437.2 620.0C1437.8 625.3 1438.1 635.4 1438.7 640.0C1439.3 644.6 1440.1 647.5 1440.8 647.5C1441.6 647.5 1442.4 644.0 1443.3 640.0C1444.3 636.0 1445.7 628.9 1446.7 623.3C1447.6 617.8 1448.5 610.8 1449.2 606.7C1449.9 602.5 1450.1 599.9 1450.8 598.3C1451.5 596.8 1452.5 596.8 1453.3 597.5C1454.2 598.2 1455.0 601.5 1455.8 602.5C1456.7 603.5 1457.6 605.4 1458.3 603.3C1459.0 601.2 1459.4 596.4 1460.0 590.0C1460.6 583.6 1461.0 574.7 1461.7 565.0C1462.4 555.3 1463.2 540.0 1464.2 531.7C1465.1 523.3 1466.4 519.7 1467.5 515.0C1468.6 510.3 1469.6 506.1 1470.8 503.3C1472.1 500.6 1473.6 498.1 1475.0 498.3C1476.4 498.6 1478.1 500.8 1479.2 505.0C1480.3 509.2 1480.8 514.7 1481.7 523.3C1482.5 531.9 1483.3 546.1 1484.2 556.7C1485.0 567.2 1485.7 578.3 1486.7 586.7C1487.6 595.0 1489.0 600.0 1490.0 606.7C1491.0 613.3 1491.7 623.1 1492.5 626.7C1493.3 630.3 1494.2 627.2 1495.0 628.3C1495.8 629.4 1496.4 628.6 1497.0 633.3C1497.6 638.1 1497.7 650.8 1498.3 656.7C1499.0 662.5 1499.9 668.3 1500.8 668.3C1501.7 668.3 1502.8 662.8 1503.7 656.7C1504.5 650.6 1505.2 641.4 1505.8 631.7C1506.5 621.9 1506.8 608.1 1507.5 598.3C1508.2 588.6 1509.0 580.0 1510.0 573.3C1511.0 566.7 1512.2 561.1 1513.3 558.3C1514.4 555.6 1515.8 554.7 1516.7 556.7C1517.5 558.6 1517.8 563.9 1518.3 570.0C1518.9 576.1 1519.4 588.9 1520.0 593.3C1520.6 597.8 1521.3 598.6 1522.0 596.7C1522.7 594.7 1523.5 586.7 1524.2 581.7C1524.8 576.7 1525.1 569.6 1525.8 566.7C1526.5 563.8 1527.6 561.7 1528.3 564.2C1529.0 566.7 1529.4 574.6 1530.0 581.7C1530.6 588.8 1531.2 602.1 1531.7 606.7C1532.2 611.2 1532.5 611.9 1533.0 609.2C1533.5 606.4 1534.2 597.1 1534.7 590.0C1535.1 582.9 1535.2 571.4 1535.8 566.7C1536.4 561.9 1537.4 561.7 1538.3 561.7C1539.3 561.7 1540.7 566.9 1541.7 566.7C1542.6 566.4 1543.5 563.9 1544.2 560.0C1544.9 556.1 1545.1 547.2 1545.8 543.3C1546.5 539.4 1547.1 537.8 1548.3 536.7C1549.6 535.6 1551.8 536.4 1553.3 536.7C1554.9 536.9 1556.4 537.8 1557.5 538.3C1558.6 538.9 1559.2 540.8 1560.0 540.0C1560.8 539.2 1561.8 536.4 1562.5 533.3C1563.2 530.3 1563.3 523.9 1564.2 521.7C1565.0 519.4 1566.5 520.3 1567.5 520.0C1568.5 519.7 1569.0 520.8 1570.0 520.0C1571.0 519.2 1571.9 516.7 1573.3 515.0C1574.7 513.3 1576.9 510.6 1578.3 510.0C1579.8 509.4 1580.9 510.5 1582.0 511.3C1583.1 512.2 1584.1 512.4 1585.0 515.0C1585.9 517.6 1586.8 521.1 1587.5 526.7C1588.2 532.2 1588.6 539.2 1589.2 548.3C1589.7 557.5 1590.3 569.2 1590.8 581.7C1591.4 594.2 1591.9 608.1 1592.5 623.3C1593.1 638.6 1593.7 659.4 1594.2 673.3C1594.7 687.2 1595.1 697.6 1595.5 706.7C1595.9 715.7 1596.3 727.5 1596.7 727.5C1597.1 727.5 1597.4 712.9 1597.8 706.7C1598.3 700.4 1598.8 701.1 1599.3 690.0C1599.9 678.9 1600.7 656.7 1601.3 640.0C1602.0 623.3 1602.6 602.2 1603.2 590.0C1603.7 577.8 1604.1 571.4 1604.7 566.7C1605.2 561.9 1605.4 562.8 1606.3 561.7C1607.2 560.6 1609.1 562.2 1610.0 560.0C1610.9 557.8 1611.1 553.1 1611.7 548.3C1612.2 543.6 1612.6 536.4 1613.3 531.7C1614.0 526.9 1615.0 522.2 1615.8 520.0C1616.7 517.8 1617.5 517.2 1618.3 518.3C1619.2 519.4 1620.1 520.3 1620.8 526.7C1621.5 533.1 1621.9 547.2 1622.5 556.7C1623.1 566.1 1623.6 577.8 1624.2 583.3C1624.7 588.9 1625.2 590.0 1625.8 590.0C1626.5 590.0 1627.3 588.9 1628.0 583.3C1628.7 577.8 1629.4 566.7 1630.0 556.7C1630.6 546.7 1631.1 530.8 1631.7 523.3C1632.3 515.8 1632.8 513.6 1633.7 511.7C1634.5 509.7 1635.8 509.7 1636.7 511.7C1637.6 513.6 1638.5 519.2 1639.2 523.3C1639.9 527.5 1640.3 532.5 1640.8 536.7C1641.4 540.8 1641.9 545.6 1642.5 548.3C1643.1 551.1 1643.7 553.1 1644.7 553.3C1645.6 553.6 1647.2 551.1 1648.3 550.0C1649.5 548.9 1650.8 549.4 1651.7 546.7C1652.5 543.9 1652.6 536.9 1653.3 533.3C1654.0 529.7 1654.9 527.5 1655.8 525.0C1656.8 522.5 1658.2 521.4 1659.2 518.3C1660.1 515.3 1661.0 511.4 1661.7 506.7C1662.4 501.9 1662.6 494.6 1663.3 490.0C1664.0 485.4 1665.0 481.1 1665.8 479.2C1666.7 477.2 1667.5 477.1 1668.3 478.3C1669.2 479.6 1670.1 481.4 1670.8 486.7C1671.5 491.9 1671.9 503.9 1672.5 510.0C1673.1 516.1 1673.4 521.9 1674.2 523.3C1674.9 524.7 1676.3 522.5 1677.2 518.3C1678.0 514.2 1678.4 505.3 1679.2 498.3C1679.9 491.4 1680.7 481.5 1681.7 476.7C1682.6 471.8 1683.8 470.7 1685.0 469.2C1686.2 467.6 1687.8 466.9 1689.2 467.5C1690.6 468.1 1692.2 470.6 1693.3 472.5C1694.4 474.4 1695.0 477.2 1695.8 479.2C1696.7 481.1 1697.1 483.3 1698.3 484.2C1699.6 485.0 1701.9 483.5 1703.3 484.2C1704.7 484.9 1705.7 484.6 1706.7 488.3C1707.6 492.1 1708.3 501.4 1709.2 506.7C1710.0 511.9 1710.8 518.9 1711.7 520.0C1712.5 521.1 1713.5 516.9 1714.2 513.3C1714.9 509.7 1715.3 503.6 1715.8 498.3C1716.4 493.1 1716.8 485.3 1717.5 481.7C1718.2 478.1 1718.9 477.4 1720.0 476.7C1721.1 476.0 1723.1 478.6 1724.2 477.5C1725.3 476.4 1725.7 471.9 1726.7 470.0C1727.6 468.1 1728.6 466.8 1730.0 465.8C1731.4 464.9 1733.6 463.6 1735.0 464.2C1736.4 464.7 1737.4 466.2 1738.3 469.2C1739.3 472.1 1740.1 475.4 1740.8 481.7C1741.5 487.9 1741.9 496.9 1742.5 506.7C1743.1 516.4 1743.6 527.5 1744.2 540.0C1744.7 552.5 1745.3 570.6 1745.8 581.7C1746.4 592.8 1747.0 601.7 1747.5 606.7C1748.0 611.7 1748.2 613.1 1748.7 611.7C1749.1 610.3 1749.8 606.1 1750.3 598.3C1750.8 590.6 1751.3 576.1 1751.7 565.0C1752.0 553.9 1752.1 540.8 1752.5 531.7C1752.9 522.5 1753.5 515.6 1754.2 510.0C1754.9 504.4 1755.8 501.4 1756.7 498.3C1757.5 495.3 1758.1 492.2 1759.2 491.7C1760.3 491.1 1762.2 494.7 1763.3 495.0C1764.4 495.3 1765.0 495.6 1765.8 493.3C1766.7 491.1 1767.2 484.9 1768.3 481.7C1769.4 478.5 1771.0 476.2 1772.5 474.2C1774.0 472.1 1776.0 470.7 1777.5 469.2C1779.0 467.6 1780.4 465.1 1781.7 465.0C1782.9 464.9 1783.8 466.4 1785.0 468.3C1786.2 470.3 1787.9 473.3 1789.2 476.7C1790.4 480.0 1791.5 483.3 1792.5 488.3C1793.5 493.3 1794.3 501.1 1795.0 506.7C1795.7 512.2 1796.0 520.3 1796.7 521.7C1797.4 523.1 1798.5 517.5 1799.2 515.0C1799.9 512.5 1800.1 508.3 1800.8 506.7C1801.5 505.0 1802.5 503.6 1803.3 505.0C1804.2 506.4 1805.0 511.7 1805.8 515.0C1806.7 518.3 1807.5 523.3 1808.3 525.0C1809.2 526.7 1810.0 525.1 1810.8 525.0C1811.7 524.9 1812.4 523.9 1813.3 524.2C1814.3 524.4 1815.6 525.4 1816.7 526.7C1817.8 527.9 1819.2 528.3 1820.0 531.7C1820.8 535.0 1820.8 541.9 1821.7 546.7C1822.5 551.4 1823.9 555.0 1825.0 560.0C1826.1 565.0 1827.2 571.7 1828.3 576.7C1829.4 581.7 1830.6 585.6 1831.7 590.0C1832.8 594.4 1834.0 599.2 1835.0 603.3C1836.0 607.5 1836.8 610.3 1837.5 615.0C1838.2 619.7 1838.7 624.7 1839.2 631.7C1839.6 638.6 1839.9 648.3 1840.3 656.7C1840.8 665.0 1841.1 680.3 1841.7 681.7C1842.2 683.1 1843.0 671.9 1843.7 665.0C1844.4 658.1 1844.9 646.9 1845.8 640.0C1846.8 633.1 1847.9 628.9 1849.2 623.3C1850.4 617.8 1851.8 613.1 1853.3 606.7C1854.9 600.3 1856.8 591.9 1858.3 585.0C1859.9 578.1 1861.2 572.5 1862.5 565.0C1863.8 557.5 1864.9 548.3 1865.8 540.0C1866.8 531.7 1867.5 521.1 1868.3 515.0C1869.2 508.9 1870.0 506.7 1870.8 503.3C1871.7 500.0 1872.5 498.6 1873.3 495.0C1874.2 491.4 1875.0 486.2 1875.8 481.7C1876.7 477.1 1877.4 470.6 1878.3 467.5C1879.3 464.4 1880.6 464.9 1881.7 463.3C1882.8 461.8 1883.8 459.6 1885.0 458.3C1886.2 457.1 1887.9 455.6 1889.2 455.8C1890.4 456.1 1891.5 457.1 1892.5 460.0C1893.5 462.9 1894.3 468.3 1895.0 473.3C1895.7 478.3 1895.8 486.4 1896.7 490.0C1897.5 493.6 1898.9 493.6 1900.0 495.0C1901.1 496.4 1902.4 495.0 1903.3 498.3C1904.3 501.7 1905.1 508.3 1905.8 515.0C1906.6 521.7 1907.4 534.4 1907.7 538.3"/>
<path stroke="#0000ff" d="M82.0 846.3C84.4 846.7 92.6 847.7 96.7 848.3C100.8 848.9 103.9 849.5 106.7 850.0C109.4 850.5 110.8 851.4 113.3 851.3C115.8 851.3 118.9 850.4 121.7 849.7C124.4 849.0 125.8 847.6 130.0 847.2C134.2 846.7 141.1 846.8 146.7 847.0C152.2 847.2 157.8 848.1 163.3 848.7C168.9 849.2 174.4 849.6 180.0 850.3C185.6 851.1 191.7 852.3 196.7 853.3C201.7 854.3 205.6 855.6 210.0 856.3C214.4 857.0 219.4 856.5 223.3 857.5C227.2 858.5 230.0 861.0 233.3 862.5C236.7 864.0 240.0 864.6 243.3 866.7C246.7 868.7 250.0 872.0 253.3 874.7C256.7 877.3 260.0 879.5 263.3 882.5C266.7 885.5 270.0 888.8 273.3 892.5C276.7 896.2 280.0 900.7 283.3 905.0C286.7 909.3 290.6 913.9 293.3 918.3C296.1 922.8 298.1 927.5 300.0 931.7C301.9 935.8 303.5 939.7 305.0 943.3C306.5 946.9 307.9 950.7 309.2 953.3C310.4 956.0 311.5 957.8 312.5 959.2C313.5 960.6 314.0 961.8 315.0 961.7C316.0 961.5 317.2 960.3 318.3 958.3C319.4 956.4 320.6 952.1 321.7 950.0C322.8 947.9 323.9 946.7 325.0 945.8C326.1 945.0 327.1 944.4 328.3 945.0C329.6 945.6 331.0 947.1 332.5 949.2C334.0 951.2 335.7 954.2 337.5 957.5C339.3 960.8 341.7 965.4 343.3 969.2C345.0 972.9 346.2 977.1 347.5 980.0C348.8 982.9 349.6 985.7 350.8 986.7C352.1 987.6 353.8 987.2 355.0 985.8C356.2 984.4 356.9 980.3 358.3 978.3C359.7 976.4 361.7 976.0 363.3 974.2C365.0 972.4 366.7 969.0 368.3 967.5C370.0 966.0 371.9 964.6 373.3 965.0C374.7 965.4 375.6 967.5 376.7 970.0C377.8 972.5 379.0 977.4 380.0 980.0C381.0 982.6 381.2 984.7 382.5 985.8C383.8 986.9 386.2 987.6 387.5 986.7C388.8 985.7 389.3 982.5 390.0 980.0C390.7 977.5 391.0 974.4 391.7 971.7C392.4 968.9 393.3 966.1 394.2 963.3C395.0 960.6 395.7 958.9 396.7 955.0C397.6 951.1 398.8 943.1 400.0 940.0C401.2 936.9 402.9 937.4 404.2 936.7C405.4 935.9 406.2 935.5 407.5 935.3C408.8 935.2 410.4 937.3 411.7 935.8C412.9 934.4 413.6 929.3 415.0 926.7C416.4 924.0 418.1 922.8 420.0 920.0C421.9 917.2 424.4 912.9 426.7 910.0C428.9 907.1 430.8 904.9 433.3 902.5C435.8 900.1 438.9 897.4 441.7 895.8C444.4 894.2 447.2 893.4 450.0 893.0C452.8 892.6 455.8 892.7 458.3 893.3C460.8 893.9 462.8 894.9 465.0 896.7C467.2 898.5 469.7 901.4 471.7 904.2C473.6 906.9 475.3 911.0 476.7 913.3C478.1 915.7 478.8 917.5 480.0 918.3C481.2 919.2 482.8 919.3 484.2 918.3C485.6 917.4 486.8 914.3 488.3 912.5C489.9 910.7 491.4 908.5 493.3 907.5C495.3 906.5 497.5 906.5 500.0 906.7C502.5 906.8 505.6 907.5 508.3 908.3C511.1 909.2 513.6 910.1 516.7 911.7C519.7 913.2 523.3 915.1 526.7 917.5C530.0 919.9 533.6 923.3 536.7 925.8C539.7 928.3 542.5 930.7 545.0 932.5C547.5 934.3 549.4 935.8 551.7 936.7C553.9 937.5 556.2 936.8 558.3 937.5C560.4 938.2 562.5 938.9 564.2 940.8C565.8 942.8 566.8 946.5 568.3 949.2C569.9 951.8 571.8 954.0 573.3 956.7C574.9 959.3 576.1 963.5 577.5 965.0C578.9 966.5 580.1 965.7 581.7 965.8C583.2 966.0 585.1 964.9 586.7 965.8C588.2 966.8 589.6 969.3 590.8 971.7C592.1 974.0 593.2 976.4 594.2 980.0C595.1 983.6 596.0 988.9 596.7 993.3C597.4 997.8 597.8 1002.5 598.3 1006.7C598.9 1010.8 599.3 1015.7 600.0 1018.3C600.7 1021.0 601.4 1021.9 602.5 1022.5C603.6 1023.1 605.6 1021.0 606.7 1021.7C607.8 1022.4 608.5 1024.4 609.2 1026.7C609.9 1028.9 610.1 1032.9 610.8 1035.0C611.5 1037.1 612.4 1038.5 613.3 1039.2C614.3 1039.9 615.7 1040.1 616.7 1039.2C617.6 1038.2 618.3 1035.3 619.2 1033.3C620.0 1031.4 620.8 1028.3 621.7 1027.5C622.5 1026.7 623.3 1026.5 624.2 1028.3C625.0 1030.1 625.9 1034.7 626.7 1038.3C627.4 1041.9 628.0 1047.1 628.7 1050.0C629.4 1052.9 629.8 1054.9 630.8 1055.8C631.9 1056.8 633.9 1057.4 635.0 1055.8C636.1 1054.3 636.8 1050.4 637.5 1046.7C638.2 1042.9 638.5 1037.5 639.2 1033.3C639.9 1029.2 640.4 1025.0 641.7 1021.7C642.9 1018.3 645.3 1015.3 646.7 1013.3C648.1 1011.4 648.5 1010.7 650.0 1010.0C651.5 1009.3 654.2 1009.9 655.8 1009.2C657.5 1008.5 658.5 1006.8 660.0 1005.8C661.5 1004.9 663.5 1004.9 665.0 1003.3C666.5 1001.8 667.8 998.5 669.2 996.7C670.6 994.9 672.1 993.2 673.3 992.5C674.6 991.8 675.6 991.5 676.7 992.5C677.8 993.5 679.0 995.4 680.0 998.3C681.0 1001.2 681.8 1006.7 682.5 1010.0C683.2 1013.3 683.5 1016.4 684.2 1018.3C684.9 1020.3 685.8 1020.4 686.7 1021.7C687.5 1022.9 688.2 1025.3 689.2 1025.8C690.1 1026.4 691.5 1026.8 692.5 1025.0C693.5 1023.2 694.0 1018.6 695.0 1015.0C696.0 1011.4 697.1 1006.9 698.3 1003.3C699.6 999.7 700.8 996.7 702.5 993.3C704.2 990.0 706.5 986.9 708.3 983.3C710.1 979.7 711.7 975.6 713.3 971.7C715.0 967.8 716.8 963.3 718.3 960.0C719.9 956.7 721.2 953.3 722.5 951.7C723.8 950.0 724.3 949.7 725.8 950.0C727.4 950.3 729.6 952.4 731.7 953.3C733.8 954.3 736.2 955.7 738.3 955.8C740.4 956.0 742.2 953.8 744.2 954.2C746.1 954.6 748.1 958.1 750.0 958.3C751.9 958.6 754.2 955.8 755.8 955.8C757.5 955.8 758.8 957.1 760.0 958.3C761.2 959.6 761.9 962.4 763.3 963.3C764.7 964.3 766.7 963.3 768.3 964.2C770.0 965.0 771.9 967.6 773.3 968.3C774.7 969.1 775.4 969.2 776.7 968.7C777.9 968.1 779.6 965.8 780.8 965.0C782.1 964.2 782.9 963.7 784.2 963.8C785.4 964.0 786.8 964.7 788.3 965.8C789.9 967.0 791.7 969.0 793.3 970.8C795.0 972.6 796.8 975.2 798.3 976.7C799.9 978.1 801.0 979.3 802.5 979.7C804.0 980.0 806.1 978.4 807.5 978.8C808.9 979.3 809.6 981.6 810.8 982.5C812.1 983.4 813.6 984.3 815.0 984.2C816.4 984.0 817.9 981.8 819.2 981.7C820.4 981.5 821.4 982.4 822.5 983.3C823.6 984.3 824.6 986.8 825.8 987.5C827.1 988.2 828.6 988.5 830.0 987.5C831.4 986.5 832.8 983.5 834.2 981.7C835.6 979.9 837.1 977.6 838.3 976.7C839.6 975.7 840.3 975.4 841.7 975.8C843.1 976.2 845.0 978.6 846.7 979.2C848.3 979.7 850.0 979.4 851.7 979.2C853.3 978.9 855.0 978.9 856.7 977.5C858.3 976.1 860.0 972.9 861.7 970.8C863.3 968.8 865.0 966.8 866.7 965.0C868.3 963.2 869.9 962.6 871.7 960.0C873.5 957.4 875.6 951.9 877.5 949.2C879.4 946.4 881.2 945.4 883.3 943.3C885.4 941.2 887.8 939.3 890.0 936.7C892.2 934.0 894.4 929.9 896.7 927.5C898.9 925.1 901.1 923.8 903.3 922.5C905.6 921.2 908.1 920.2 910.0 919.7C911.9 919.1 913.3 919.9 915.0 919.2C916.7 918.4 918.3 916.8 920.0 915.0C921.7 913.2 923.6 911.4 925.0 908.3C926.4 905.3 927.4 900.8 928.3 896.7C929.3 892.5 930.0 888.1 930.8 883.3C931.7 878.6 932.5 872.5 933.3 868.3C934.2 864.2 935.0 860.1 935.8 858.3C936.7 856.5 937.5 856.1 938.3 857.5C939.2 858.9 940.0 864.2 940.8 866.7C941.7 869.2 942.5 872.2 943.3 872.5C944.2 872.8 945.1 870.3 945.8 868.3C946.5 866.4 946.4 862.2 947.5 860.8C948.6 859.4 950.8 859.4 952.5 860.0C954.2 860.6 955.8 862.2 957.5 864.2C959.2 866.1 961.0 869.4 962.5 871.7C964.0 873.9 965.4 876.2 966.7 877.5C967.9 878.8 968.3 879.2 970.0 879.2C971.7 879.2 974.2 878.2 976.7 877.5C979.2 876.8 982.2 875.9 985.0 875.0C987.8 874.1 990.6 872.8 993.3 872.0C996.1 871.2 999.2 871.0 1001.7 870.3C1004.2 869.6 1006.1 868.1 1008.3 867.8C1010.6 867.6 1012.8 868.8 1015.0 868.7C1017.2 868.5 1019.4 867.1 1021.7 867.0C1023.9 866.9 1026.1 868.1 1028.3 868.3C1030.6 868.6 1032.8 868.6 1035.0 868.3C1037.2 868.1 1039.4 866.7 1041.7 866.7C1043.9 866.7 1045.6 868.1 1048.3 868.3C1051.1 868.6 1055.3 868.4 1058.3 868.0C1061.4 867.6 1064.0 865.9 1066.7 865.8C1069.3 865.8 1071.7 867.9 1074.2 867.5C1076.7 867.1 1078.8 864.6 1081.7 863.3C1084.6 862.1 1088.3 860.8 1091.7 860.0C1095.0 859.2 1098.6 858.9 1101.7 858.3C1104.7 857.8 1107.5 856.8 1110.0 856.7C1112.5 856.5 1114.4 858.1 1116.7 857.5C1118.9 856.9 1121.1 854.7 1123.3 853.3C1125.6 851.9 1127.8 850.1 1130.0 849.2C1132.2 848.3 1134.7 848.6 1136.7 848.0C1138.6 847.4 1139.7 845.4 1141.7 845.8C1143.6 846.2 1146.1 849.6 1148.3 850.3C1150.6 851.0 1152.8 850.4 1155.0 850.0C1157.2 849.6 1159.4 847.3 1161.7 848.0C1163.9 848.7 1166.4 853.4 1168.3 854.2C1170.3 854.9 1171.4 852.5 1173.3 852.5C1175.3 852.5 1177.8 853.8 1180.0 854.2C1182.2 854.6 1184.4 855.1 1186.7 855.0C1188.9 854.9 1191.4 853.5 1193.3 853.3C1195.3 853.2 1196.8 853.1 1198.3 854.2C1199.9 855.3 1201.4 858.6 1202.5 860.0C1203.6 861.4 1204.0 862.9 1205.0 862.5C1206.0 862.1 1206.9 859.0 1208.3 857.5C1209.7 856.0 1211.4 854.1 1213.3 853.3C1215.3 852.6 1217.8 852.9 1220.0 853.0C1222.2 853.1 1224.7 853.4 1226.7 854.2C1228.6 854.9 1230.1 856.8 1231.7 857.5C1233.2 858.2 1234.4 858.6 1235.8 858.3C1237.2 858.1 1237.9 856.2 1240.0 855.8C1242.1 855.4 1245.8 855.0 1248.3 855.8C1250.8 856.7 1253.1 858.8 1255.0 860.8C1256.9 862.9 1258.5 865.7 1260.0 868.3C1261.5 871.0 1263.1 871.9 1264.2 876.7C1265.3 881.4 1265.8 890.0 1266.7 896.7C1267.5 903.3 1268.3 909.7 1269.2 916.7C1270.0 923.6 1270.8 930.6 1271.7 938.3C1272.5 946.1 1273.6 955.0 1274.2 963.3C1274.8 971.7 1275.0 982.2 1275.3 988.3C1275.6 994.4 1275.4 989.7 1276.0 1000.0C1276.6 1010.3 1277.9 1033.3 1278.7 1050.0C1279.5 1066.7 1280.2 1083.3 1280.8 1100.0C1281.5 1116.7 1281.9 1134.7 1282.5 1150.0C1283.1 1165.3 1283.5 1182.1 1284.2 1191.7C1284.8 1201.2 1285.6 1207.5 1286.3 1207.5C1287.1 1207.5 1287.9 1195.7 1288.7 1191.7C1289.4 1187.6 1289.9 1185.8 1290.8 1183.3C1291.8 1180.8 1293.1 1180.8 1294.2 1176.7C1295.3 1172.5 1296.5 1165.6 1297.5 1158.3C1298.5 1151.1 1299.3 1143.1 1300.0 1133.3C1300.7 1123.6 1301.1 1112.5 1301.7 1100.0C1302.2 1087.5 1302.8 1070.8 1303.3 1058.3C1303.9 1045.8 1304.4 1032.5 1305.0 1025.0C1305.6 1017.5 1306.0 1018.3 1306.7 1013.3C1307.4 1008.3 1308.3 998.9 1309.2 995.0C1310.0 991.1 1310.7 990.0 1311.7 990.0C1312.6 990.0 1314.1 991.7 1315.0 995.0C1315.9 998.3 1316.4 1003.6 1317.0 1010.0C1317.6 1016.4 1317.8 1021.1 1318.3 1033.3C1318.8 1045.6 1319.4 1066.7 1320.0 1083.3C1320.6 1100.0 1321.1 1119.4 1321.7 1133.3C1322.2 1147.2 1322.8 1159.4 1323.3 1166.7C1323.8 1173.9 1324.2 1179.4 1324.7 1176.7C1325.1 1173.9 1325.7 1162.8 1326.2 1150.0C1326.6 1137.2 1327.0 1111.4 1327.5 1100.0C1328.0 1088.6 1328.5 1081.7 1329.2 1081.7C1329.9 1081.7 1330.8 1090.0 1331.7 1100.0C1332.5 1110.0 1333.3 1127.8 1334.2 1141.7C1335.0 1155.6 1335.8 1172.5 1336.7 1183.3C1337.5 1194.2 1338.6 1202.4 1339.2 1206.7C1339.8 1211.0 1339.9 1211.7 1340.3 1209.2C1340.8 1206.7 1341.2 1201.5 1342.0 1191.7C1342.8 1181.8 1344.1 1165.3 1345.0 1150.0C1345.9 1134.7 1346.7 1116.7 1347.5 1100.0C1348.3 1083.3 1349.2 1063.9 1350.0 1050.0C1350.8 1036.1 1351.8 1025.6 1352.5 1016.7C1353.2 1007.8 1353.5 1006.9 1354.2 996.7C1354.9 986.4 1355.7 966.1 1356.7 955.0C1357.6 943.9 1358.8 938.3 1360.0 930.0C1361.2 921.7 1362.6 911.9 1364.2 905.0C1365.7 898.1 1367.5 892.2 1369.2 888.3C1370.8 884.4 1372.6 881.9 1374.2 881.7C1375.7 881.4 1377.2 882.8 1378.3 886.7C1379.4 890.6 1380.1 897.8 1380.8 905.0C1381.6 912.2 1382.4 920.3 1383.0 930.0C1383.6 939.7 1383.9 953.6 1384.2 963.3C1384.4 973.1 1384.5 976.7 1384.7 988.3C1384.8 1000.0 1384.8 1017.5 1385.0 1033.3C1385.2 1049.2 1385.6 1066.7 1385.8 1083.3C1386.1 1100.0 1386.4 1119.4 1386.7 1133.3C1386.9 1147.2 1387.0 1166.7 1387.5 1166.7C1388.0 1166.7 1388.9 1147.2 1389.5 1133.3C1390.1 1119.4 1390.8 1100.0 1391.3 1083.3C1391.9 1066.7 1392.5 1052.5 1393.0 1033.3C1393.5 1014.2 1393.6 980.0 1394.2 968.3C1394.8 956.7 1395.9 962.8 1396.7 963.3C1397.4 963.9 1398.3 964.7 1398.8 971.7C1399.3 978.6 1399.4 991.9 1399.7 1005.0C1399.9 1018.1 1400.1 1036.9 1400.3 1050.0C1400.6 1063.1 1400.8 1069.4 1401.2 1083.3C1401.5 1097.2 1402.1 1123.5 1402.5 1133.3C1402.9 1143.2 1403.2 1145.3 1403.7 1142.5C1404.1 1139.7 1404.8 1129.3 1405.3 1116.7C1405.9 1104.0 1406.5 1081.9 1407.2 1066.7C1407.8 1051.4 1408.4 1035.0 1409.2 1025.0C1409.9 1015.0 1410.8 1006.7 1411.7 1006.7C1412.6 1006.7 1413.8 1018.3 1414.7 1025.0C1415.5 1031.7 1415.6 1043.3 1416.7 1046.7C1417.7 1050.0 1419.9 1041.7 1420.8 1045.0C1421.8 1048.3 1421.9 1057.5 1422.5 1066.7C1423.1 1075.8 1423.7 1093.1 1424.2 1100.0C1424.7 1106.9 1425.0 1111.1 1425.5 1108.3C1426.0 1105.6 1426.6 1091.7 1427.2 1083.3C1427.7 1075.0 1428.2 1064.2 1428.7 1058.3C1429.1 1052.5 1429.4 1047.5 1430.0 1048.3C1430.6 1049.2 1431.8 1059.9 1432.5 1063.3C1433.2 1066.8 1433.4 1070.0 1434.2 1069.2C1434.9 1068.3 1436.4 1064.3 1437.2 1058.3C1437.9 1052.4 1438.2 1043.6 1438.8 1033.3C1439.4 1023.1 1440.2 1011.1 1440.8 996.7C1441.4 982.2 1441.8 958.3 1442.5 946.7C1443.2 935.0 1444.2 931.7 1445.0 926.7C1445.8 921.7 1446.7 921.7 1447.5 916.7C1448.3 911.7 1449.0 903.6 1450.0 896.7C1451.0 889.7 1452.2 880.1 1453.3 875.0C1454.4 869.9 1455.6 867.5 1456.7 865.8C1457.8 864.2 1458.8 863.8 1460.0 865.0C1461.2 866.2 1462.9 868.1 1464.2 873.3C1465.4 878.6 1466.5 887.2 1467.5 896.7C1468.5 906.1 1469.3 918.9 1470.0 930.0C1470.7 941.1 1471.1 952.2 1471.7 963.3C1472.2 974.4 1472.9 985.0 1473.3 996.7C1473.8 1008.3 1473.8 1024.7 1474.2 1033.3C1474.6 1041.9 1474.7 1045.6 1475.8 1048.3C1476.9 1051.1 1479.6 1048.3 1480.8 1050.0C1482.1 1051.7 1482.6 1052.8 1483.3 1058.3C1484.0 1063.9 1484.4 1073.6 1485.0 1083.3C1485.6 1093.1 1486.1 1105.6 1486.7 1116.7C1487.2 1127.8 1487.8 1140.3 1488.3 1150.0C1488.9 1159.7 1489.4 1166.7 1490.0 1175.0C1490.6 1183.3 1491.2 1193.6 1491.7 1200.0C1492.1 1206.4 1492.0 1214.7 1492.5 1213.3C1493.0 1211.9 1493.8 1199.4 1494.7 1191.7C1495.5 1183.9 1496.5 1171.2 1497.5 1166.7C1498.5 1162.1 1499.9 1160.0 1500.8 1164.2C1501.8 1168.3 1502.6 1182.9 1503.3 1191.7C1504.0 1200.4 1504.4 1208.6 1505.0 1216.7C1505.6 1224.7 1505.9 1238.6 1506.7 1240.0C1507.4 1241.4 1508.7 1230.3 1509.7 1225.0C1510.6 1219.7 1511.8 1215.3 1512.5 1208.3C1513.2 1201.4 1513.6 1193.1 1514.2 1183.3C1514.7 1173.6 1515.3 1159.7 1515.8 1150.0C1516.4 1140.3 1516.9 1132.2 1517.5 1125.0C1518.1 1117.8 1518.5 1110.3 1519.2 1106.7C1519.9 1103.1 1521.0 1100.3 1521.7 1103.3C1522.4 1106.4 1522.6 1120.0 1523.3 1125.0C1524.0 1130.0 1525.0 1134.7 1525.8 1133.3C1526.7 1131.9 1527.6 1125.0 1528.3 1116.7C1529.0 1108.3 1529.5 1092.2 1530.0 1083.3C1530.5 1074.4 1530.9 1067.5 1531.3 1063.3C1531.8 1059.2 1532.2 1055.0 1532.8 1058.3C1533.4 1061.7 1534.4 1070.8 1535.0 1083.3C1535.6 1095.8 1536.2 1122.5 1536.7 1133.3C1537.2 1144.2 1537.4 1148.3 1538.0 1148.3C1538.6 1148.3 1539.8 1141.4 1540.5 1133.3C1541.2 1125.3 1541.9 1113.9 1542.5 1100.0C1543.1 1086.1 1543.7 1063.9 1544.2 1050.0C1544.6 1036.1 1545.1 1024.2 1545.3 1016.7C1545.6 1009.2 1545.3 1008.6 1545.8 1005.0C1546.6 1001.4 1548.6 997.5 1550.0 995.0C1551.4 992.5 1553.1 989.7 1554.2 990.0C1555.3 990.3 1556.1 993.3 1556.7 996.7C1557.2 1000.0 1557.1 1006.9 1557.5 1010.0C1557.9 1013.1 1558.5 1015.8 1559.2 1015.0C1559.9 1014.2 1561.0 1010.8 1561.7 1005.0C1562.4 999.2 1562.8 989.7 1563.3 980.0C1563.9 970.3 1564.3 954.2 1565.0 946.7C1565.7 939.2 1566.4 937.5 1567.5 935.0C1568.6 932.5 1570.6 934.2 1571.7 931.7C1572.8 929.2 1573.3 924.4 1574.2 920.0C1575.0 915.6 1575.6 908.2 1576.7 905.0C1577.8 901.8 1579.6 900.8 1580.8 900.8C1582.1 900.8 1583.2 901.5 1584.2 905.0C1585.1 908.5 1586.0 914.7 1586.7 921.7C1587.4 928.6 1587.8 936.9 1588.3 946.7C1588.9 956.4 1589.6 971.1 1590.0 980.0C1590.4 988.9 1590.4 988.3 1590.8 1000.0C1591.2 1011.7 1591.9 1030.6 1592.5 1050.0C1593.1 1069.4 1593.6 1094.4 1594.2 1116.7C1594.7 1138.9 1595.3 1165.3 1595.8 1183.3C1596.4 1201.4 1597.0 1215.4 1597.5 1225.0C1598.0 1234.6 1598.2 1240.8 1598.7 1240.8C1599.1 1240.8 1599.7 1234.6 1600.2 1225.0C1600.7 1215.4 1601.2 1198.6 1601.7 1183.3C1602.1 1168.1 1602.6 1150.0 1603.0 1133.3C1603.4 1116.7 1603.7 1098.6 1604.2 1083.3C1604.6 1068.1 1605.2 1054.7 1605.8 1041.7C1606.5 1028.6 1607.2 1016.7 1608.0 1005.0C1608.8 993.3 1609.8 981.4 1610.8 971.7C1611.9 961.9 1613.1 952.2 1614.2 946.7C1615.3 941.1 1616.4 940.0 1617.5 938.3C1618.6 936.7 1619.7 935.8 1620.8 936.7C1621.9 937.5 1623.3 938.9 1624.2 943.3C1625.0 947.8 1625.3 954.4 1625.8 963.3C1626.4 972.2 1627.1 985.6 1627.5 996.7C1627.9 1007.8 1628.1 1018.9 1628.3 1030.0C1628.6 1041.1 1628.9 1056.4 1629.2 1063.3C1629.4 1070.3 1629.6 1074.4 1630.0 1071.7C1630.4 1068.9 1631.1 1059.2 1631.7 1046.7C1632.2 1034.2 1632.8 1010.6 1633.3 996.7C1633.8 982.8 1634.1 970.0 1634.7 963.3C1635.2 956.7 1636.0 955.3 1636.7 956.7C1637.4 958.1 1638.3 962.2 1638.8 971.7C1639.4 981.1 1639.7 998.1 1640.0 1013.3C1640.3 1028.6 1640.6 1053.1 1640.8 1063.3C1641.1 1073.6 1641.4 1069.0 1641.7 1075.0C1641.9 1081.0 1642.2 1098.3 1642.5 1099.2C1642.8 1100.0 1643.1 1086.0 1643.5 1080.0C1643.9 1074.0 1644.3 1070.3 1644.7 1063.3C1645.1 1056.4 1645.4 1049.4 1645.8 1038.3C1646.3 1027.2 1646.9 1011.9 1647.5 996.7C1648.1 981.4 1648.5 957.4 1649.2 946.7C1649.8 936.0 1650.6 933.1 1651.3 932.5C1652.1 931.9 1653.2 935.4 1653.8 943.3C1654.5 951.2 1654.9 966.9 1655.3 980.0C1655.8 993.1 1656.1 1011.7 1656.3 1021.7C1656.6 1031.7 1656.7 1041.4 1657.0 1040.0C1657.3 1038.6 1657.8 1026.1 1658.3 1013.3C1658.8 1000.6 1659.3 977.2 1660.0 963.3C1660.7 949.4 1661.5 936.7 1662.5 930.0C1663.5 923.3 1664.7 923.3 1665.8 923.3C1666.9 923.3 1668.2 924.7 1669.2 930.0C1670.1 935.3 1671.0 945.3 1671.7 955.0C1672.4 964.7 1672.7 978.1 1673.3 988.3C1673.9 998.6 1674.6 1010.0 1675.3 1016.7C1676.0 1023.3 1676.8 1028.9 1677.5 1028.3C1678.2 1027.8 1678.9 1020.0 1679.7 1013.3C1680.4 1006.7 1681.2 995.6 1682.0 988.3C1682.8 981.1 1683.4 973.3 1684.2 970.0C1684.9 966.7 1685.8 970.6 1686.7 968.3C1687.5 966.1 1688.4 958.9 1689.2 956.7C1689.9 954.4 1690.6 952.5 1691.3 955.0C1692.0 957.5 1692.8 964.7 1693.3 971.7C1693.9 978.6 1694.2 991.5 1694.7 996.7C1695.1 1001.8 1695.3 1003.9 1695.8 1002.5C1696.4 1001.1 1697.1 996.2 1697.8 988.3C1698.5 980.4 1699.4 966.1 1700.0 955.0C1700.6 943.9 1700.8 930.8 1701.7 921.7C1702.5 912.5 1703.8 905.6 1705.0 900.0C1706.2 894.4 1707.8 891.2 1709.2 888.3C1710.6 885.4 1712.2 883.6 1713.3 882.5C1714.4 881.4 1715.0 879.3 1715.8 881.7C1716.7 884.0 1717.6 887.2 1718.3 896.7C1719.0 906.1 1719.5 925.8 1720.0 938.3C1720.5 950.8 1721.0 964.7 1721.3 971.7C1721.7 978.6 1721.7 982.8 1722.0 980.0C1722.3 977.2 1722.8 966.1 1723.3 955.0C1723.9 943.9 1724.6 925.3 1725.3 913.3C1726.0 901.4 1726.4 891.1 1727.5 883.3C1728.6 875.6 1730.1 871.4 1731.7 866.7C1733.2 861.9 1735.0 857.5 1736.7 855.0C1738.3 852.5 1740.1 851.4 1741.7 851.7C1743.2 851.9 1744.7 851.9 1745.8 856.7C1746.9 861.4 1747.6 870.6 1748.3 880.0C1749.0 889.4 1749.4 899.4 1750.0 913.3C1750.6 927.2 1751.2 945.3 1751.7 963.3C1752.1 981.4 1752.6 1007.2 1752.8 1021.7C1753.0 1036.1 1752.8 1036.0 1753.0 1050.0C1753.2 1064.0 1753.5 1103.1 1753.8 1105.8C1754.2 1108.6 1754.6 1081.5 1755.0 1066.7C1755.4 1051.8 1755.9 1031.1 1756.3 1016.7C1756.8 1002.2 1757.2 994.4 1757.5 980.0C1757.8 965.6 1757.9 942.5 1758.3 930.0C1758.8 917.5 1759.2 908.1 1760.0 905.0C1760.8 901.9 1762.4 910.8 1763.3 911.7C1764.3 912.5 1765.1 913.9 1765.8 910.0C1766.5 906.1 1766.8 895.6 1767.5 888.3C1768.2 881.1 1768.9 872.2 1770.0 866.7C1771.1 861.1 1772.5 858.1 1774.2 855.0C1775.8 851.9 1778.1 849.9 1780.0 848.3C1781.9 846.8 1784.4 845.3 1785.8 845.8C1787.2 846.4 1787.6 849.0 1788.3 851.7C1789.1 854.3 1789.5 861.1 1790.3 861.7C1791.2 862.2 1792.4 856.8 1793.3 855.0C1794.2 853.2 1795.0 850.0 1795.8 850.8C1796.7 851.7 1797.6 855.1 1798.3 860.0C1799.0 864.9 1799.4 874.4 1800.0 880.0C1800.6 885.6 1801.0 891.9 1801.7 893.3C1802.4 894.7 1803.5 891.9 1804.2 888.3C1804.9 884.7 1805.1 876.1 1805.8 871.7C1806.5 867.2 1807.5 861.7 1808.3 861.7C1809.2 861.7 1810.1 865.8 1810.8 871.7C1811.5 877.5 1811.9 886.9 1812.5 896.7C1813.1 906.4 1813.6 922.2 1814.2 930.0C1814.7 937.8 1815.2 943.3 1815.8 943.3C1816.4 943.3 1817.1 937.8 1817.7 930.0C1818.2 922.2 1818.6 905.3 1819.2 896.7C1819.7 888.1 1820.0 881.8 1820.8 878.3C1821.7 874.9 1823.1 875.0 1824.2 875.8C1825.3 876.7 1826.7 880.4 1827.5 883.3C1828.3 886.2 1828.5 891.5 1829.2 893.3C1829.9 895.1 1830.6 894.3 1831.7 894.2C1832.8 894.0 1834.9 890.7 1835.8 892.5C1836.8 894.3 1836.9 900.7 1837.5 905.0C1838.1 909.3 1838.6 915.8 1839.2 918.3C1839.7 920.8 1840.1 921.4 1840.8 920.0C1841.5 918.6 1842.4 913.3 1843.3 910.0C1844.3 906.7 1845.3 902.8 1846.7 900.0C1848.1 897.2 1850.0 895.6 1851.7 893.3C1853.3 891.1 1855.3 888.2 1856.7 886.7C1858.1 885.1 1858.9 883.6 1860.0 884.2C1861.1 884.7 1862.4 888.6 1863.3 890.0C1864.3 891.4 1865.0 892.8 1865.8 892.5C1866.7 892.2 1867.6 887.6 1868.3 888.3C1869.0 889.0 1869.5 891.1 1870.0 896.7C1870.5 902.2 1870.9 913.9 1871.3 921.7C1871.8 929.4 1872.1 938.8 1872.5 943.3C1872.9 947.9 1873.3 951.4 1873.8 949.2C1874.3 946.9 1874.9 937.4 1875.5 930.0C1876.1 922.6 1876.8 913.3 1877.5 905.0C1878.2 896.7 1879.2 887.5 1880.0 880.0C1880.8 872.5 1881.5 865.0 1882.5 860.0C1883.5 855.0 1884.6 852.2 1885.8 850.0C1887.1 847.8 1888.5 846.4 1890.0 846.7C1891.5 846.9 1893.5 848.9 1895.0 851.7C1896.5 854.4 1897.9 858.6 1899.2 863.3C1900.4 868.1 1901.5 873.1 1902.5 880.0C1903.5 886.9 1904.1 893.9 1905.0 905.0C1905.9 916.1 1907.2 939.7 1907.7 946.7"/>
</g>
<g fill="none" stroke-width="10.6" stroke-linecap="round">
<line x1="98.3" y1="1156" x2="238.3" y2="1156" stroke="#ff0000"/>
<line x1="98.3" y1="1234" x2="238.3" y2="1234" stroke="#000000"/>
<line x1="98.3" y1="1311.7" x2="238.3" y2="1311.7" stroke="#0000ff"/>
</g>
<g font-size="62.9px">
<text x="256" y="1176.9">4,4'-Bipyridine</text>
<text x="256" y="1254.9">complex 1</text>
<text x="256" y="1332.6">trans-2,3,4-Trimethoxycinnamic acid</text>
</g>
<g stroke="#000" stroke-width="4.8" stroke-linecap="round"><line x1="81.8" y1="1361.4" x2="81.8" y2="1385.1"/><line x1="212.3" y1="1361.4" x2="212.3" y2="1372.2"/><line x1="342.8" y1="1361.4" x2="342.8" y2="1385.1"/><line x1="473.3" y1="1361.4" x2="473.3" y2="1372.2"/><line x1="603.8" y1="1361.4" x2="603.8" y2="1385.1"/><line x1="734.3" y1="1361.4" x2="734.3" y2="1372.2"/><line x1="864.8" y1="1361.4" x2="864.8" y2="1385.1"/><line x1="995.3" y1="1361.4" x2="995.3" y2="1372.2"/><line x1="1125.8" y1="1361.4" x2="1125.8" y2="1385.1"/><line x1="1256.3" y1="1361.4" x2="1256.3" y2="1372.2"/><line x1="1386.8" y1="1361.4" x2="1386.8" y2="1385.1"/><line x1="1517.3" y1="1361.4" x2="1517.3" y2="1372.2"/><line x1="1647.8" y1="1361.4" x2="1647.8" y2="1385.1"/><line x1="1778.3" y1="1361.4" x2="1778.3" y2="1372.2"/><line x1="1908.8" y1="1361.4" x2="1908.8" y2="1385.1"/></g>
<g font-size="57.8px"><text x="81.3" y="1448.4" text-anchor="middle">4000</text><text x="342.3" y="1448.4" text-anchor="middle">3500</text><text x="603.3" y="1448.4" text-anchor="middle">3000</text><text x="864.3" y="1448.4" text-anchor="middle">2500</text><text x="1125.3" y="1448.4" text-anchor="middle">2000</text><text x="1386.3" y="1448.4" text-anchor="middle">1500</text><text x="1647.3" y="1448.4" text-anchor="middle">1000</text><text x="1908.3" y="1448.4" text-anchor="middle">500</text></g>
<text x="695.5" y="1567.5" font-size="69.9px">Wavenumber / cm</text>
<text x="1258.5" y="1533.2" font-size="42px">-1</text>
</svg>
</body></html>
